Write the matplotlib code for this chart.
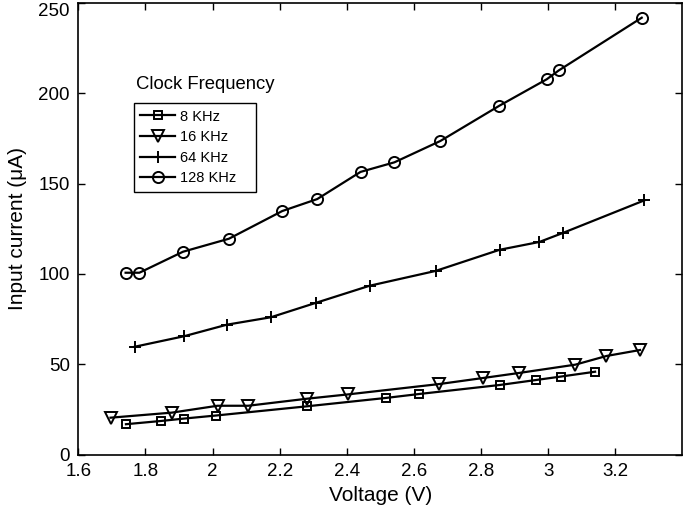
import matplotlib.pyplot as plt

plt.rcParams['font.family'] = ['Liberation Sans', 'DejaVu Sans']

# 8 KHz
v_8k = [1.742, 1.847, 1.914, 2.010, 2.282, 2.516, 2.616, 2.857, 2.963, 3.037, 3.140]
i_8k = [17.0, 18.8, 20.1, 21.8, 26.9, 31.5, 33.7, 38.7, 41.4, 43.3, 46.0]

# 16 KHz
v_16k = [1.696, 1.879, 2.015, 2.106, 2.282, 2.405, 2.676, 2.805, 2.913, 3.081, 3.174, 3.274]
i_16k = [20.6, 23.4, 27.2, 27.2, 31.1, 33.5, 39.2, 42.5, 45.3, 49.9, 54.7, 58.0]

# 64 KHz
v_64k = [1.768, 1.915, 2.043, 2.174, 2.307, 2.468, 2.665, 2.856, 2.974, 3.043, 3.287]
i_64k = [59.8, 65.6, 72.0, 76.1, 84.0, 93.5, 101.7, 113.4, 117.7, 122.6, 140.7]

# 128 KHz
v_128k = [1.741, 1.782, 1.912, 2.049, 2.208, 2.312, 2.441, 2.542, 2.679, 2.855, 2.996, 3.032, 3.279]
i_128k = [100.7, 100.7, 112.3, 119.5, 134.8, 141.4, 156.4, 161.7, 173.5, 193.0, 207.6, 212.5, 241.6]

labels = ['8 KHz', '16 KHz', '64 KHz', '128 KHz']
x_ticks = [1.6, 1.8, 2.0, 2.2, 2.4, 2.6, 2.8, 3.0, 3.2]
x_tick_labels = ['1.6', '1.8', '2', '2.2', '2.4', '2.6', '2.8', '3', '3.2']
y_ticks = [0, 50, 100, 150, 200, 250]

fig = plt.figure(figsize=(6.85, 5.13), dpi=100)
ax = fig.add_axes([0.1143, 0.1131, 0.8818, 0.882])

style = dict(color='black', linewidth=1.6, markerfacecolor='none',
             markeredgecolor='black', markeredgewidth=1.4)
ax.plot(v_8k, i_8k, marker='s', markersize=6, label=labels[0], **style)
ax.plot(v_16k, i_16k, marker='v', markersize=8.5, label=labels[1], **style)
ax.plot(v_64k, i_64k, marker='+', markersize=8.5, label=labels[2], **style)
ax.plot(v_128k, i_128k, marker='o', markersize=8, label=labels[3], **style)

ax.set_xlim(1.6, 3.4)
ax.set_ylim(0, 250)
ax.set_xticks(x_ticks)
ax.set_xticklabels(x_tick_labels)
ax.set_yticks(y_ticks)
ax.tick_params(direction='in', length=5, width=1, top=True, right=True,
               labelsize=13.5, pad=6)
for s in ax.spines.values():
    s.set_linewidth(1.2)

# keep the top y label inside the figure
fig.canvas.draw()
ax.get_yticklabels()[-1].set_va('top')

ax.set_xlabel('Voltage (V)', fontsize=15, labelpad=4)
ax.set_ylabel('Input current (μA)', fontsize=15, labelpad=8)

# legend title sits outside the legend frame
ax.text(0.095, 0.818, 'Clock Frequency', transform=ax.transAxes, fontsize=13.3,
        ha='left', va='center')
leg = ax.legend(loc='upper left', bbox_to_anchor=(0.092, 0.678, 0.202, 0.1),
                mode='expand', fontsize=10.5,
                frameon=True, fancybox=False, edgecolor='black', framealpha=1,
                handlelength=2.4, handletextpad=0.3, borderpad=0.45,
                labelspacing=0.45, borderaxespad=0)
leg.get_frame().set_linewidth(1.0)

fig.savefig('out.png', dpi=100)
